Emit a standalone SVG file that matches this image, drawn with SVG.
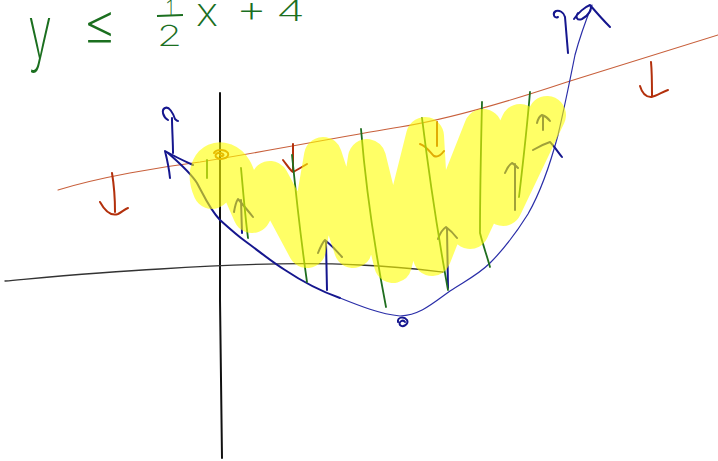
<svg xmlns="http://www.w3.org/2000/svg" width="718" height="461" viewBox="0 0 718 461">
<style>
.eq{font-family:"Inter","Open Sans","Liberation Sans",sans-serif;font-weight:200;fill:#1b6f1f}
.ink{fill:none;stroke-linecap:round;stroke-linejoin:round}
.blue{stroke:#15168e;stroke-width:2}
.green{stroke:#1f6e1f;stroke-width:1.8}
.red{stroke:#b3300c;stroke-width:2}
</style>
<rect width="718" height="461" fill="#ffffff"/>
<g id="equation">
<text class="eq" x="28" y="58" font-size="74" textLength="24" lengthAdjust="spacingAndGlyphs">y</text>
<text class="eq" x="82" y="45" font-size="60" textLength="35" lengthAdjust="spacingAndGlyphs">≤</text>
<text class="eq" x="166" y="15" font-size="20">1</text>
<line x1="157" y1="16" x2="183" y2="15" stroke="#1b6f1f" stroke-width="2"/>
<text class="eq" x="157" y="46" font-size="29" textLength="25" lengthAdjust="spacingAndGlyphs">2</text>
<text class="eq" x="196" y="26" font-size="40" textLength="22" lengthAdjust="spacingAndGlyphs">x</text>
<text class="eq" x="236" y="22" font-size="38" textLength="31" lengthAdjust="spacingAndGlyphs">+</text>
<text class="eq" x="276" y="21" font-size="28" textLength="29" lengthAdjust="spacingAndGlyphs">4</text>
</g>
<g id="axes" class="ink">
<path d="M220,93 L220,300 L222,458" stroke="#111" stroke-width="2"/>
<path d="M5,281 C60,276 100,272 160,269 C220,265 300,262 360,265 C400,267 425,270 443,272" stroke="#333" stroke-width="1.3"/>
</g>
<g id="boundary-line" class="ink">
<path d="M58,190 C100,177 160,167 200,162 C280,149 350,135 400,127 C450,119 510,101 567,82 C620,66 670,50 718,35" stroke="#c8603c" stroke-width="1.1"/>
<path class="red" d="M112,173 C114,185 115,200 115,212 M100,202 C106,213 112,216 118,214 C122,212 125,209 128,208"/>
<path class="red" d="M293,144 C293,155 293,165 293,172 M283,160 C287,165 290,170 293,172 C297,170 302,167 307,164"/>
<path class="red" d="M437,122 C437,132 437,140 437,146 M420,144 C426,146 430,152 434,156 C438,158 441,155 444,151"/>
<path class="red" d="M651,62 C652,72 652,85 652,97 M640,86 C642,93 646,97 651,97 C657,96 662,92 668,90"/>
<path d="M214,153 C216,149 225,149 228,153 C230,158 220,161 216,157 C214,154 219,151 223,154 C225,156 221,157 220,155" fill="none" stroke="#c25a00" stroke-width="2"/>
</g>
<g id="parabola" class="ink">
<path class="blue" d="M168,153 C176,160 190,172 197,183 C203,194 210,210 220,220 C230,229 238,236 245,241 C260,252 272,262 285,270 C300,280 320,291 340,298"/>
<path d="M340,298 C360,306 380,314 400,316 C420,315 432,304 450,291 C465,281 478,275 490,263 C505,248 518,230 528,214 C540,193 550,165 558,135 C565,105 570,80 575,55 C579,40 584,25 592,5" fill="none" stroke="#2a2ea8" stroke-width="1.2"/>
<path class="blue" d="M170,178 C169,168 167,159 165,151 C172,155 182,160 193,165 M173,153 C173,142 172,128 172,118 M168,120 C163,117 161,110 165,108 C169,106 173,113 175,119 C176,120 177,121 178,121"/>
<path class="blue" d="M568,53 C567,40 566,28 565,17 C564,12 559,10 556,11 C552,13 554,19 558,17 M574,19 C578,13 585,7 590,5 C593,9 588,16 582,19 C577,21 575,17 578,13 M590,5 C596,12 603,20 610,27"/>
<path class="blue" d="M533,150 C538,147 544,144 550,142 C554,146 558,152 562,157"/>
<path d="M398,322 C397,317 404,316 407,320 C409,324 403,328 400,325 C398,322 403,319 405,322" fill="none" stroke="#15168e" stroke-width="2"/>
</g>
<g id="arrows" class="ink">
<path class="blue" d="M241,200 L242,233 M234,212 C235,206 236,202 238,199 C244,206 249,212 253,217"/>
<path class="blue" d="M326,242 L327,290 M318,253 C320,248 322,243 325,240 C331,245 337,251 342,257"/>
<path class="blue" d="M447,229 L448,288 M438,239 C440,233 443,229 446,227 C450,230 454,234 457,238"/>
<path class="blue" d="M515,164 L515,210 M505,173 C507,168 509,165 512,163 C514,164 516,166 518,168"/>
<path class="blue" d="M543,116 L543,130 M537,123 C538,119 540,116 542,115 C545,116 548,118 550,121"/>
<path class="green" d="M207,160 L207,178"/>
<path class="green" d="M241,168 C243,190 245,215 248,238"/>
<path class="green" d="M292,155 C296,195 301,240 307,282"/>
<path class="green" d="M361,129 C366,190 375,250 386,307"/>
<path class="green" d="M422,118 C429,175 438,235 448,290"/>
<path class="green" d="M482,102 C481,145 480,190 480,233 C483,245 487,256 490,267"/>
<path class="green" d="M530,92 C527,128 523,163 519,197"/>
</g>
<g id="shading">
<path d="M212,190 C204,172 212,158 224,162 C234,166 236,176 238,182 L252,214 L270,180 L307,249 L323,156 L353,249 L367,158 L393,264 L425,136 L432,257 L483,128 L470,230 L520,123 L503,207 L547,115" fill="none" stroke="#ffff00" stroke-width="38" stroke-linecap="round" stroke-linejoin="round" opacity="0.6"/>
</g>
</svg>
